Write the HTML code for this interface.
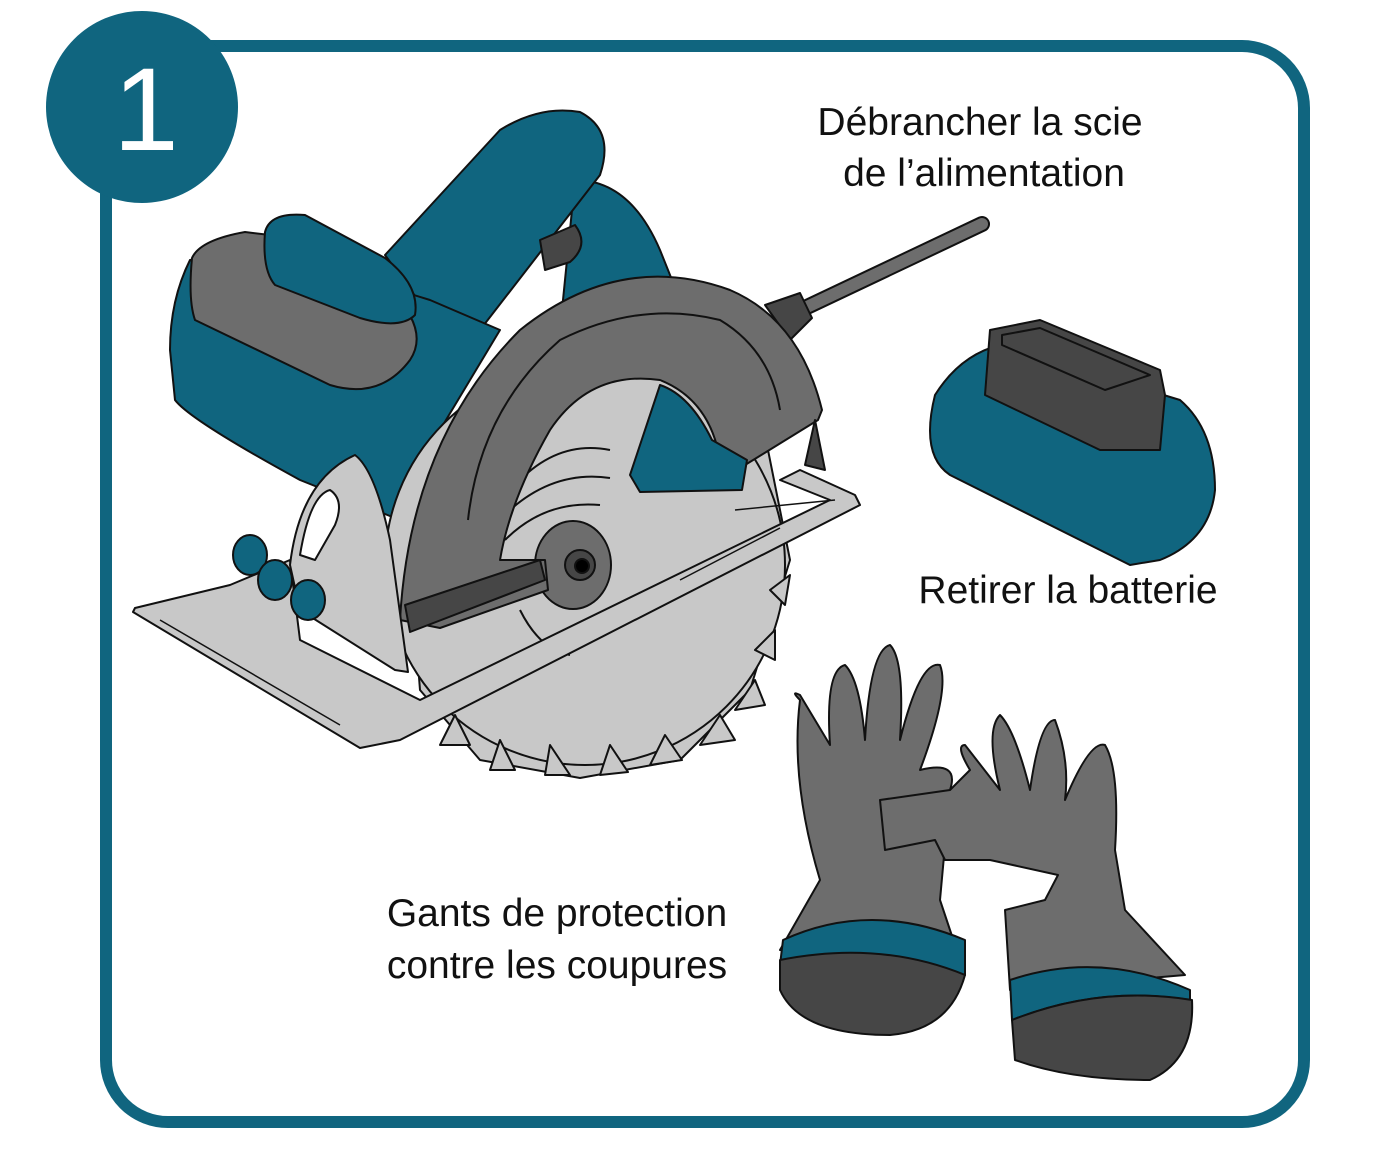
<!DOCTYPE html>
<html><head><meta charset="utf-8"><style>
html,body{margin:0;padding:0;background:#fff;}
svg{display:block}
text{font-family:"Liberation Sans",sans-serif;fill:#111}
</style></head><body>
<svg width="1386" height="1166" viewBox="0 0 1386 1166" xmlns="http://www.w3.org/2000/svg">
<rect x="106" y="46" width="1198" height="1076" rx="62" fill="#fff" stroke="#10657f" stroke-width="12"/>
<circle cx="142" cy="107" r="96" fill="#10657f"/>
<text x="146" y="150" font-size="118" text-anchor="middle" style="fill:#fff">1</text>

<text x="980" y="135" font-size="39" text-anchor="middle">Débrancher la scie</text>
<text x="984" y="186" font-size="39" text-anchor="middle">de l’alimentation</text>
<text x="1068" y="603" font-size="39" text-anchor="middle">Retirer la batterie</text>
<text x="557" y="926" font-size="39" text-anchor="middle">Gants de protection</text>
<text x="557" y="978" font-size="39" text-anchor="middle">contre les coupures</text>

<g stroke="#111" stroke-width="2" stroke-linejoin="round">
<!-- cord -->
<line x1="790" y1="315" x2="982" y2="224" stroke="#111" stroke-width="16" stroke-linecap="round"/>
<line x1="790" y1="315" x2="982" y2="224" stroke="#6d6d6d" stroke-width="12" stroke-linecap="round"/>
<path d="M765 305 L800 293 L812 318 L790 340 Z" fill="#464646"/>
<!-- rear teal handle part -->
<path d="M575 180 Q630 180 660 250 L680 300 L560 330 Z" fill="#10657f"/>
<!-- handle -->
<path d="M385 255 L500 130 Q540 105 580 112 Q615 130 600 175 L480 330 L440 330 Z" fill="#10657f"/>
<path d="M540 240 L575 225 Q590 245 570 262 L545 270 Z" fill="#464646"/>
<!-- motor body -->
<path d="M190 260 Q170 300 170 350 L175 400 Q190 420 300 480 L400 520 L440 430 L500 330 L430 300 Q300 260 250 250 Z" fill="#10657f"/>
<path d="M192 258 Q200 240 245 232 L270 235 L390 290 Q430 330 410 360 Q380 400 330 385 L195 320 Q188 300 192 258 Z" fill="#6d6d6d"/>
<path d="M265 232 Q270 212 305 215 L385 258 Q420 285 415 315 Q400 330 360 318 L275 285 Q262 270 265 232 Z" fill="#10657f"/>
<!-- blade -->
<path d="M585 360 L760 410 L790 560 L750 690 L680 760 L580 778 L480 760 L420 690 L410 560 L470 430 Z" fill="#c8c8c8"/>
<circle cx="585" cy="565" r="200" fill="#c8c8c8"/>
<g fill="#c8c8c8">
<path d="M700 745 L720 715 L735 740 Z"/><path d="M650 765 L665 735 L682 760 Z"/><path d="M600 775 L610 745 L628 772 Z"/><path d="M545 775 L550 745 L570 775 Z"/><path d="M490 770 L500 740 L515 770 Z"/><path d="M735 710 L755 680 L765 705 Z"/><path d="M755 650 L775 630 L775 660 Z"/><path d="M770 590 L790 575 L785 605 Z"/><path d="M440 745 L455 715 L470 745 Z"/></g>
<path d="M520 480 Q560 440 610 450 M510 510 Q555 470 610 478 M505 540 Q545 500 600 505 M520 610 Q540 650 570 655" fill="none"/>
<ellipse cx="573" cy="565" rx="38" ry="44" fill="#6d6d6d"/>
<circle cx="580" cy="565" r="15" fill="#464646"/>
<circle cx="582" cy="566" r="7" fill="#000"/>
<!-- base plate -->
<path d="M133 612 L360 748 L400 740 L860 505 L855 495 L800 470 L780 480 L830 500 L420 700 L300 640 L290 560 L230 585 L135 608 Z" fill="#c8c8c8"/>
<path d="M160 620 L340 725 M735 510 L835 500 M680 580 L780 528" fill="none" stroke-width="1.5"/>
<!-- guard -->
<path d="M400 620 Q410 440 520 330 Q620 250 730 290 Q800 320 822 410 L818 420 L745 465 L720 460 Q710 400 660 380 Q590 370 550 430 Q510 500 500 560 L545 560 L548 590 L440 628 Z" fill="#6d6d6d"/>
<path d="M468 520 Q480 410 560 340 Q640 300 720 320 Q770 350 780 410" fill="none"/>
<path d="M405 605 L540 560 L545 580 L410 632 Z" fill="#464646"/>
<path d="M630 475 L660 385 Q690 395 712 440 L747 460 L742 490 L640 492 Z" fill="#10657f"/>
<path d="M815 420 L825 470 L805 465 Z" fill="#464646"/>
<!-- front handle knob plate -->
<path d="M290 565 Q300 480 355 455 Q375 470 390 540 L408 672 L395 670 L300 610 Z" fill="#c8c8c8"/>
<path d="M300 555 Q310 495 330 490 Q345 500 335 525 L315 560 Z" fill="#fff"/>
<ellipse cx="250" cy="555" rx="17" ry="20" fill="#10657f"/>
<ellipse cx="275" cy="580" rx="17" ry="20" fill="#10657f"/>
<ellipse cx="308" cy="600" rx="17" ry="20" fill="#10657f"/>
<!-- battery -->
<path d="M935 395 Q960 355 1000 345 L1180 400 Q1215 430 1215 490 Q1210 540 1160 560 L1130 565 L950 475 Q920 455 935 395 Z" fill="#10657f"/>
<path d="M990 330 L1040 320 L1160 370 L1165 395 L1160 450 L1100 450 L985 395 Z" fill="#464646"/>
<path d="M1002 335 L1040 328 L1150 375 L1105 390 L1002 345 Z" fill="#464646"/>
<!-- glove left -->
<path d="M800 700 Q790 690 800 695 L830 745 Q825 670 845 665 Q860 680 865 740 Q870 650 890 645 Q905 660 900 740 Q920 660 940 665 Q950 690 920 770 Q960 760 950 790 L940 900 L965 975 L780 950 L820 880 Q790 780 800 700 Z" fill="#6d6d6d"/>
<path d="M783 940 Q870 900 965 940 L965 975 Q880 945 780 965 Z" fill="#10657f"/>
<path d="M780 960 Q880 940 965 975 Q950 1030 890 1035 Q800 1035 780 990 Z" fill="#464646"/>
<!-- glove right -->
<path d="M880 800 L950 790 L970 770 Q955 745 965 745 L1000 790 Q985 730 1000 715 Q1015 730 1030 790 Q1040 720 1055 720 Q1070 760 1065 800 Q1090 740 1105 745 Q1120 770 1115 850 L1125 910 L1185 975 L1010 990 L1005 910 L1045 900 L1058 875 L990 860 L945 860 L935 840 L885 850 Z" fill="#6d6d6d"/>
<path d="M1010 980 Q1100 950 1190 990 L1190 1000 Q1100 985 1012 1020 Z" fill="#10657f"/>
<path d="M1012 1020 Q1100 985 1192 1000 Q1195 1060 1150 1080 Q1070 1080 1015 1060 Z" fill="#464646"/>
</g>
</svg>
</body></html>
